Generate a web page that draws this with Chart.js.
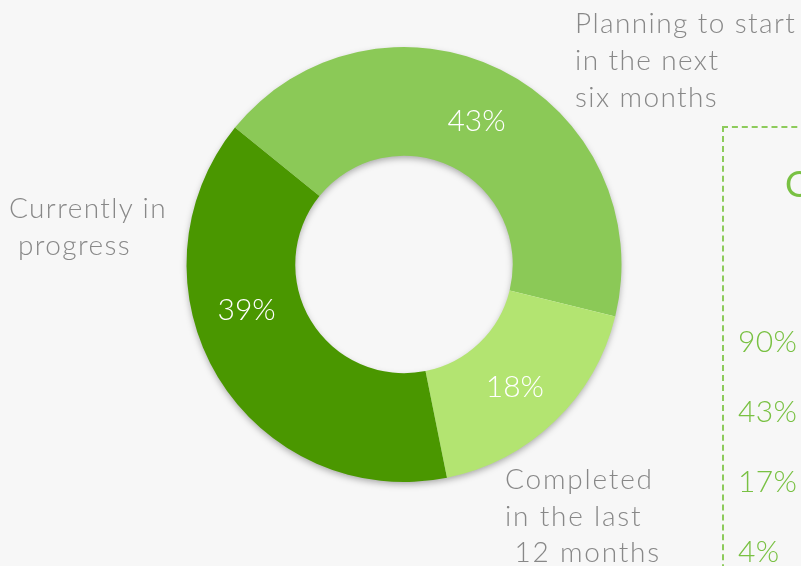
<!DOCTYPE html>
<html>
<head>
<meta charset="utf-8">
<script src="https://cdn.jsdelivr.net/npm/chart.js@4"></script>
<style>
    body {
        margin: 0;
        width: 801px;
        height: 566px;
        overflow: hidden;
        background: #f7f7f7;
        font-family: Lato, "Open Sans", sans-serif;
        font-weight: 300;
    }

    #wrap {
        position: absolute;
        left: 0;
        top: 0;
        width: 801px;
        height: 566px;
    }

    .rotulo {
        position: absolute;
        color: #888;
        font-size: 28px;
        line-height: 37px;
        letter-spacing: 1.4px;
        white-space: pre;
    }

    #painel {
        position: absolute;
        left: 722px;
        top: 126px;
        width: 200px;
        height: 500px;
        border: 2px dashed #8dcb5b;
    }

    #titulo {
        position: absolute;
        left: 785px;
        top: 162px;
        color: #79c143;
        font-size: 36px;
        font-weight: 400;
        line-height: 43px;
    }

    #numeros {
        position: absolute;
        left: 738px;
        top: 305px;
        color: #79c143;
        font-size: 30px;
        line-height: 70px;
        letter-spacing: 0.4px;
        white-space: pre;
    }
</style>
</head>
<body>

<div id="wrap"><canvas id="graficoRosca"></canvas></div>

<div class="rotulo" id="rotulo0" style="left:575px; top:4px;"></div>
<div class="rotulo" id="rotulo1" style="left:505px; top:460px; line-height:36.5px; letter-spacing:1.8px;"></div>
<div class="rotulo" id="rotulo2" style="left:9px; top:189px;"></div>

<div id="painel"></div>
<div id="titulo">O</div>
<div id="numeros"></div>

<script>
// dados do grafico
const categorias = [
    "Planning to start\nin the next\nsix months",
    "Completed\nin the last\n 12 months",
    "Currently in\n progress"
];
const valores = [43, 18, 39];
const cores = ["#8bc957", "#b3e471", "#4a9700"];

// valores da caixa da direita
const valoresPainel = ["90%", "43%", "17%", "4%"];

// ajuste do angulo dos rotulos internos (graus)
const ajusteAngulo = [0, 1, 16];

categorias.forEach((c, i) => {
    document.getElementById("rotulo" + i).textContent = c;
});
document.getElementById("numeros").textContent = valoresPainel.join("\n");

const sombra = {
    id: "sombra",
    beforeDatasetsDraw(chart) {
        const arco = chart.getDatasetMeta(0).data[0];
        if (!arco) return;
        const ctx = chart.ctx;
        ctx.save();
        ctx.shadowColor = "rgba(0,0,0,0.35)";
        ctx.shadowBlur = 7;
        ctx.shadowOffsetY = 3;
        ctx.fillStyle = "#f7f7f7";
        ctx.beginPath();
        ctx.arc(arco.x, arco.y, arco.outerRadius - 1, 0, Math.PI * 2, false);
        ctx.arc(arco.x, arco.y, arco.innerRadius + 1, 0, Math.PI * 2, true);
        ctx.fill();
        ctx.restore();
    }
};

const rotulosInternos = {
    id: "rotulosInternos",
    afterDatasetsDraw(chart) {
        const ctx = chart.ctx;
        const meta = chart.getDatasetMeta(0);
        ctx.save();
        ctx.fillStyle = "#ffffff";
        ctx.font = "300 30px Lato, 'Open Sans', sans-serif";
        ctx.textAlign = "center";
        ctx.textBaseline = "alphabetic";
        meta.data.forEach((arco, i) => {
            const ang = (arco.startAngle + arco.endAngle) / 2 + ajusteAngulo[i] * Math.PI / 180;
            const r = (arco.innerRadius + arco.outerRadius) / 2;
            const x = arco.x + Math.cos(ang) * r;
            const y = arco.y + Math.sin(ang) * r;
            ctx.fillText(valores[i] + "%", x, y + 13);
        });
        ctx.restore();
    }
};

const ctx = document.getElementById("graficoRosca");

new Chart(ctx, {
    type: "doughnut",

    data: {
        labels: categorias,
        datasets: [{
            data: valores,
            backgroundColor: cores,
            borderWidth: 0,
            clip: false
        }]
    },

    options: {
        responsive: true,
        maintainAspectRatio: false,
        animation: false,
        events: [],
        rotation: -51,
        cutout: "50%",
        layout: {
            padding: { left: 186, top: 47, right: 179, bottom: 84 }
        },
        plugins: {
            legend: { display: false },
            tooltip: { enabled: false }
        }
    },

    plugins: [sombra, rotulosInternos]
});
</script>
</body>
</html>
